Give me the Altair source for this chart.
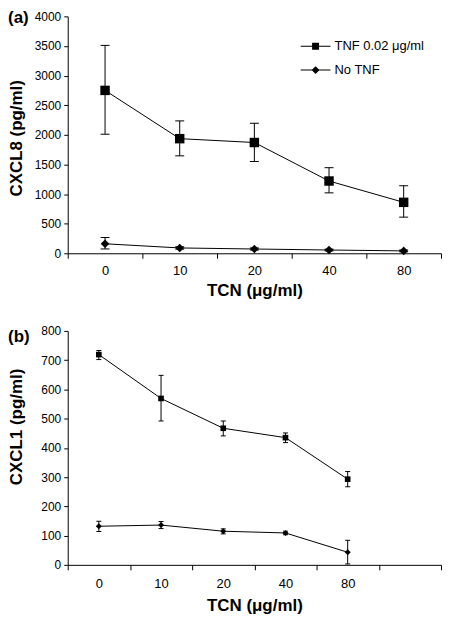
import altair as alt
import pandas as pd

# ---------------- data ----------------
series = ["TNF 0.02 μg/ml", "No TNF"]

doses_a = ["0", "10", "20", "40", "80"]
tnf_a = [2750, 1935, 1870, 1220, 860]
tnf_a_lo = [2010, 1645, 1550, 1020, 610]
tnf_a_hi = [3510, 2235, 2195, 1445, 1140]
no_a = [160, 90, 72, 55, 40]
no_a_lo = [73, 70, 55, 40, 25]
no_a_hi = [266, 110, 90, 70, 55]

doses_b = ["0", "10", "20", "40", "80"]
slots_b = doses_b + [""]
tnf_b = [719, 569, 467, 435, 293]
tnf_b_lo = [702, 492, 441, 418, 267]
tnf_b_hi = [733, 648, 492, 451, 319]
no_b = [132, 136, 115, 109, 43]
no_b_lo = [114, 124, 106, 103, 3]
no_b_hi = [149, 148, 123, 115, 84]

FONT = "Liberation Sans"


def panel_df(doses, tnf, tlo, thi, no, nlo, nhi):
    rows = []
    for i, d in enumerate(doses):
        rows.append(dict(dose=d, series=series[0], value=tnf[i], lo=tlo[i], hi=thi[i]))
        rows.append(dict(dose=d, series=series[1], value=no[i], lo=nlo[i], hi=nhi[i]))
    return pd.DataFrame(rows)


def make_panel(df, slots, tag, ytitle, ymax, ystep, w, h, sq_size, dm_size, cap,
               paths, leg, x_lab_pad, x_title_pad, title_y, tag_y):
    xenc = alt.X(
        "dose:N", sort=slots,
        scale=alt.Scale(type="band", domain=slots, paddingInner=0, paddingOuter=0),
        axis=alt.Axis(title="TCN (μg/ml)", tickBand="extent", ticks=True, tickSize=5,
                      labelAngle=0, labelFontSize=13, labelPadding=x_lab_pad,
                      titlePadding=x_title_pad),
    )
    yscale = alt.Scale(domain=[0, ymax], nice=False)
    yaxis = alt.Axis(title=ytitle, values=list(range(0, ymax + 1, ystep)), format="d",
                     labelOverlap=False, ticks=True,
                     labelFontSize=12, labelPadding=3, titleX=-42, titleY=title_y)

    def Y(field):
        return alt.Y(field, scale=yscale, axis=yaxis)

    base = alt.Chart(df)
    line = base.mark_line(color="black", strokeWidth=1).encode(
        x=xenc, y=Y("value:Q"), detail="series:N")
    rule = base.mark_rule(color="black", strokeWidth=1).encode(
        x=xenc, y=Y("lo:Q"), y2="hi:Q")
    cap_lo = base.mark_tick(color="black", thickness=1, size=cap, opacity=1).encode(
        x=xenc, y=Y("lo:Q"))
    cap_hi = base.mark_tick(color="black", thickness=1, size=cap, opacity=1).encode(
        x=xenc, y=Y("hi:Q"))
    pts_t = base.transform_filter(alt.datum.series == series[0]).mark_point(
        shape="square", filled=True, color="black", size=sq_size, opacity=1).encode(
        x=xenc, y=Y("value:Q"))
    pts_n = base.transform_filter(alt.datum.series == series[1]).mark_point(
        shape="diamond", filled=True, color="black", size=dm_size, opacity=1).encode(
        x=xenc, y=Y("value:Q"))
    legend_layer = alt.Chart(pd.DataFrame({"series": pd.Series([], dtype=str)})).mark_point(
        filled=True, color="black", opacity=1).encode(
        shape=alt.Shape("series:N", scale=alt.Scale(domain=series, range=paths),
                        legend=alt.Legend(title=None, orient="none", direction="vertical",
                                          legendX=leg["x"], legendY=leg["y"],
                                          symbolSize=leg["size"], symbolStrokeWidth=0,
                                          symbolFillColor="black",
                                          labelFont=FONT, labelFontSize=13, labelColor="black",
                                          labelOffset=leg["offset"], rowPadding=leg["rowpad"],
                                          padding=0)))
    tag_layer = alt.Chart(pd.DataFrame({"t": [tag]})).mark_text(
        font=FONT, fontSize=17, fontWeight="bold", align="left", baseline="middle",
        color="black").encode(text="t:N", x=alt.value(-60), y=alt.value(tag_y))
    return alt.layer(line, rule, cap_lo, cap_hi, pts_t, pts_n, legend_layer, tag_layer).properties(
        width=w, height=h)


df_a = panel_df(doses_a, tnf_a, tnf_a_lo, tnf_a_hi, no_a, no_a_lo, no_a_hi)
df_b = panel_df(doses_b, tnf_b, tnf_b_lo, tnf_b_hi, no_b, no_b_lo, no_b_hi)

paths_a = ["M-1.5,-0.05H1.5V0.05H-1.5Z M-0.35,-0.35H0.35V0.35H-0.35Z",
           "M-1.5,-0.05H1.5V0.05H-1.5Z M0,-0.4L0.4,0L0,0.4L-0.4,0Z"]
paths_b = ["M-2.5,-0.1H2.5V0.1H-2.5Z M-0.5,-0.5H0.5V0.5H-0.5Z",
           "M-2.5,-0.1H2.5V0.1H-2.5Z M0,-0.6L0.7,0L0,0.6L-0.7,0Z"]

panel_a = make_panel(df_a, doses_a, "(a)", "CXCL8 (pg/ml)", 4000, 500, 375, 238, 90, 75, 9,
                     paths_a, dict(x=239, y=20, size=400, offset=9, rowpad=7),
                     6.5, 5, 122, 2)
panel_b = make_panel(df_b, slots_b, "(b)", "CXCL1 (pg/ml)", 800, 100, 375, 235, 32, 36, 5,
                     paths_b, dict(x=252.5, y=13.5, size=100, offset=11.5, rowpad=0),
                     7.5, 7, 96, 6)

chart = alt.vconcat(panel_a, panel_b, spacing=26).properties(padding=0).configure_view(
    stroke=None).configure_axis(
    grid=False, domainColor="black", tickColor="black", labelColor="black", titleColor="black",
    labelFont=FONT, titleFont=FONT, titleFontWeight="bold", titleFontSize=17,
    tickSize=4, domainWidth=1, tickWidth=1)

chart.save("out.html", embed_options={"renderer": "svg", "actions": False})
